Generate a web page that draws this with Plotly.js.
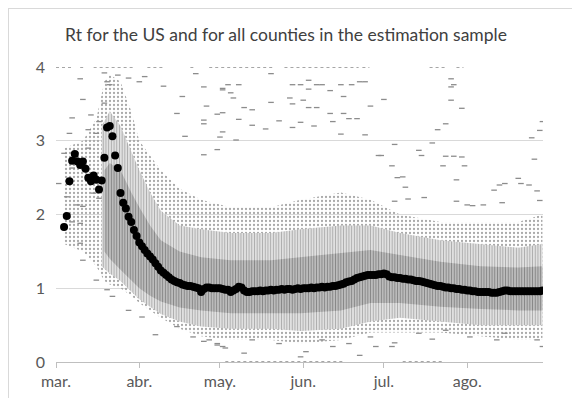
<!DOCTYPE html>
<html>
<head>
<meta charset="utf-8">
<script src="https://cdn.plot.ly/plotly-3.0.1.min.js"></script>
<style>
  html, body { margin: 0; padding: 0; background: #fff; }
  #wrap { position: relative; width: 572px; height: 398px; overflow: hidden; }
  #chart { position: absolute; left: 0; top: 0; width: 572px; height: 398px; }
  #frame { position: absolute; left: 8px; top: 8px; right: -2px; bottom: -2px;
           border-top: 1px solid #d9d9d9; border-left: 1px solid #d9d9d9; pointer-events: none; }
</style>
</head>
<body>
<div id="wrap"><div id="chart"></div><div id="frame"></div></div>
<script>
// ---------- data (day index: 0 = 1 March 2020) ----------
const monthTicks  = ['2020-03-01','2020-04-01','2020-05-01','2020-06-01','2020-07-01','2020-08-01'];
const monthLabels = ['mar.','abr.','may.','jun.','jul.','ago.'];

// US Rt, one value per day starting at day 3 (4 March)
const usStartDay = 3;
const usRt = [
  1.83,1.98,2.45,2.73,2.82,2.72,2.67,2.72,2.62,2.50,2.45,2.53,2.47,2.34,2.46,2.77,3.18,3.20,3.06,2.80,2.63,2.29,2.16,
  2.08,1.97,1.90,1.79,1.71,1.62,1.57,1.52,1.47,1.43,1.39,1.34,1.29,1.24,1.21,1.18,1.15,1.12,1.10,1.08,
  1.07,1.05,1.04,1.03,1.03,1.02,1.01,1.00,
  0.95,0.99,1.01,1.01,1.00,1.00,1.00,1.00,0.99,0.98,0.98,0.95,0.97,0.99,1.02,1.01,0.97,0.95,0.95,0.96,0.96,
  0.96,0.97,0.96,0.97,0.97,0.98,0.97,0.98,0.98,0.99,0.98,0.99,0.99,0.98,0.99,1.00,0.99,1.00,1.00,1.00,
  1.01,1.00,1.01,1.01,1.02,1.01,1.02,1.02,1.03,1.03,1.04,1.05,1.06,1.08,1.09,1.10,1.12,1.14,1.15,1.16,
  1.17,1.18,1.18,1.18,1.18,1.19,1.19,1.20,
  1.19,1.16,1.15,1.15,1.14,1.14,1.13,1.13,1.12,1.12,1.11,1.10,1.10,1.09,1.08,1.07,1.06,1.05,1.04,1.03,
  1.03,1.02,1.01,1.01,1.00,1.00,0.99,0.99,0.98,0.98,0.97,0.97,0.96,0.96,0.95,0.95,0.95,0.95,0.95,0.94,
  0.94,0.94,0.95,0.96,0.97,0.97,0.96,0.96,0.96,0.96,0.96,0.96,0.96,0.96,0.96,0.96,0.96,0.96,0.97
];

// County cloud, read at key days: sparse outer fringe, mid halo, dense core
const outerDay = [3,10,15,18,20,24,28,31,35,39,46,54,65,80,91,106,117,128,143,158,172,181];
const outerHi  = [2.9,3.0,3.3,3.8,3.9,3.8,3.4,3.0,2.8,2.6,2.35,2.2,2.1,2.1,2.2,2.3,2.2,2.0,1.9,1.9,1.9,2.0];
const outerLo  = [1.6,1.5,1.3,1.1,1.05,1.0,0.9,0.8,0.7,0.6,0.45,0.35,0.3,0.3,0.25,0.3,0.4,0.4,0.4,0.35,0.3,0.3];

const midDay = [17,20,24,28,31,35,39,46,54,65,80,91,106,117,128,143,158,172,181];
const midHi  = [3.2,3.4,3.2,2.85,2.6,2.3,2.05,1.85,1.8,1.75,1.75,1.8,1.85,1.85,1.75,1.65,1.6,1.55,1.6];
const midLo  = [1.3,1.2,1.1,0.95,0.85,0.75,0.65,0.55,0.48,0.45,0.45,0.42,0.45,0.55,0.6,0.55,0.5,0.5,0.5];

const coreDay = [18,20,24,28,31,35,39,46,54,65,80,91,106,117,128,143,158,172,181];
const coreHi  = [2.6,2.7,2.6,2.3,2.1,1.85,1.65,1.5,1.42,1.38,1.38,1.42,1.48,1.52,1.45,1.36,1.3,1.28,1.3];
const coreLo  = [1.5,1.4,1.25,1.1,1.0,0.9,0.82,0.74,0.7,0.66,0.66,0.66,0.7,0.8,0.8,0.75,0.72,0.7,0.7];

// isolated county values (day, Rt)
const outDay = [80,94,97,55,64,68,88,91,99,106,110,113,115,62,94,65,66,87,102,107,122,80,88,56,70,73,92,97,94,117,
  60,62,68,73,83,88,91,96,102,103,107,109,112,55,78,106,115,61,67,
  147,148,147,147,151,145,142,181,180,177,140,126,135,136,145,148,151,178,152,144,125,120,121,172,173,165,167,176,163,179,
  149,129,127,130,137,149,131,166,180,153,155,159,126,
  9,6,10,12,5,12,3,6,1,4,8,10,6,9,16,14,15,16,13,18,19,18,20,23,27,31,33,40,47,52,55,62,62,45,48,55,60,
  37,51,60,55,62,45,32,27,21,19,15,10,9,70,91,93,113,109,60,63,103,99,83,57,73,119,125,126,117,140,154,164,167,179,181,135,145];
const outVal = [3.91,3.82,3.76,3.73,3.76,3.76,3.76,3.76,3.76,3.76,3.76,3.80,3.80,3.69,3.70,3.65,3.58,3.58,3.68,3.60,3.56,3.52,3.50,3.47,3.45,3.42,3.55,3.45,3.45,3.47,
  3.36,3.38,3.29,3.21,3.27,3.18,3.25,3.20,3.37,3.26,3.37,3.30,3.30,3.23,3.16,3.09,3.08,3.05,3.01,
  3.84,3.76,3.73,3.55,3.44,3.23,3.15,3.26,3.14,3.04,2.97,2.95,2.87,2.80,2.79,2.79,2.78,2.75,2.66,2.66,2.66,2.80,2.80,2.49,2.42,2.40,2.42,2.40,2.33,2.32,
  2.47,2.51,2.50,2.37,2.23,2.18,2.21,2.16,2.19,2.13,2.12,2.13,2.18,
  3.84,3.31,3.56,3.15,3.10,2.90,2.83,2.63,2.42,2.24,2.13,2.11,1.90,1.88,2.22,2.29,3.10,3.26,3.35,3.51,3.80,3.92,3.76,3.89,3.85,3.80,3.87,3.74,3.60,3.91,3.28,3.71,3.12,3.37,3.06,2.81,2.88,
  0.37,0.34,0.25,0.28,0.21,0.48,0.61,0.70,0.89,0.98,1.11,1.38,1.61,0.12,0.07,0.14,0.09,0.25,0.23,0.19,0.21,0.30,0.25,0.30,0.30,0.21,0.21,0.26,0.34,0.31,0.34,0.30,0.39,0.30,0.21,0.39,0.43];

// runs of days where county values sit at the caps (4 and 0)
const capTopStart = [0,9,14,34,50,57,85,114,139,149];
const capTopEnd   = [6,9.5,28,40,50.5,80,112,116,145,151];
const capBotStart = [63,129];
const capBotEnd   = [106,143];

// ---------- helpers ----------
const DAY = 86400000, T0 = Date.UTC(2020,2,1);
const toDate = d => new Date(T0 + d*DAY).toISOString().slice(0,19).replace('T',' ');
const runs = (s, e, y) => {
  const xs = [], ys = [];
  s.forEach((v,i) => { xs.push(toDate(v), toDate(e[i]+0.6), null); ys.push(y, y, null); });
  return {xs, ys};
};
const noLine = {width:0, color:'rgba(0,0,0,0)'};
const band = (days, lo, hi, pattern, bg) => [
  {x: days.map(toDate), y: lo, mode:'lines', line:noLine, hoverinfo:'skip', showlegend:false},
  {x: days.map(toDate), y: hi, mode:'lines', line:noLine, fill:'tonexty', fillcolor:bg,
   fillpattern: pattern, hoverinfo:'skip', showlegend:false}
];

const traces = [];
traces.push(...band(outerDay, outerLo, outerHi,
  {shape:'.', fgcolor:'#a9a9a9', bgcolor:'rgba(255,255,255,0)', size:4, solidity:0.25}, 'rgba(255,255,255,0)'));
traces.push(...band(midDay, midLo, midHi,
  {shape:'|', fgcolor:'#acacac', bgcolor:'#ebebeb', size:2.7, solidity:0.45}, '#ebebeb'));
traces.push(...band(coreDay, coreLo, coreHi,
  {shape:'|', fgcolor:'#858585', bgcolor:'#cdcdcd', size:2.7, solidity:0.5}, '#cdcdcd'));
// cap runs
const capTop = runs(capTopStart, capTopEnd, 4);
const capBot = runs(capBotStart, capBotEnd, 0);
traces.push({x: capTop.xs, y: capTop.ys, mode:'lines', line:{width:2, color:'#a6a6a6', dash:'dot'}, cliponaxis:false, hoverinfo:'skip', showlegend:false});
traces.push({x: capBot.xs, y: capBot.ys, mode:'lines', line:{width:2, color:'#a6a6a6', dash:'dot'}, cliponaxis:false, hoverinfo:'skip', showlegend:false});
// isolated county values
traces.push({x: outDay.map(toDate), y: outVal, mode:'markers',
  marker:{symbol:'line-ew', size:4, line:{width:1.3, color:'#8c8c8c'}}, hoverinfo:'skip', showlegend:false});
// US
traces.push({x: usRt.map((_,i) => toDate(usStartDay+i)), y: usRt, mode:'markers', name:'US',
  marker:{symbol:'circle', size:8, color:'#000000'}, showlegend:false});

const fontFam = 'Lato, "Open Sans", sans-serif';
const layout = {
  width: 572, height: 398,
  margin: {l:56, r:29, t:67, b:36},
  paper_bgcolor:'#ffffff', plot_bgcolor:'#ffffff',
  title: {text:'Rt for the US and for all counties in the estimation sample',
          font:{family:fontFam, size:17.5, color:'#404040'},
          x:0.5, xanchor:'center', y:1-35/398, yref:'container', yanchor:'middle'},
  xaxis: {type:'date', range:[toDate(0), toDate(181.2)], tickvals: monthTicks, ticktext: monthLabels,
          ticks:'outside', ticklen:5, tickcolor:'#bfbfbf', tickwidth:1,
          showline:true, linecolor:'#bfbfbf', linewidth:1, showgrid:false, zeroline:false,
          tickfont:{family:fontFam, size:16, color:'#595959'}},
  yaxis: {range:[0,4], tickvals:[0,1,2,3,4], ticktext:['0','1','2','3','4'],
          showgrid:true, gridcolor:'#d9d9d9', gridwidth:1, zeroline:false, showline:false, ticks:'',
          ticklabelstandoff: 10,
          tickfont:{family:fontFam, size:16, color:'#595959'}},
  showlegend:false
};

Plotly.newPlot('chart', traces, layout, {displayModeBar:false, staticPlot:true});
</script>
</body>
</html>
